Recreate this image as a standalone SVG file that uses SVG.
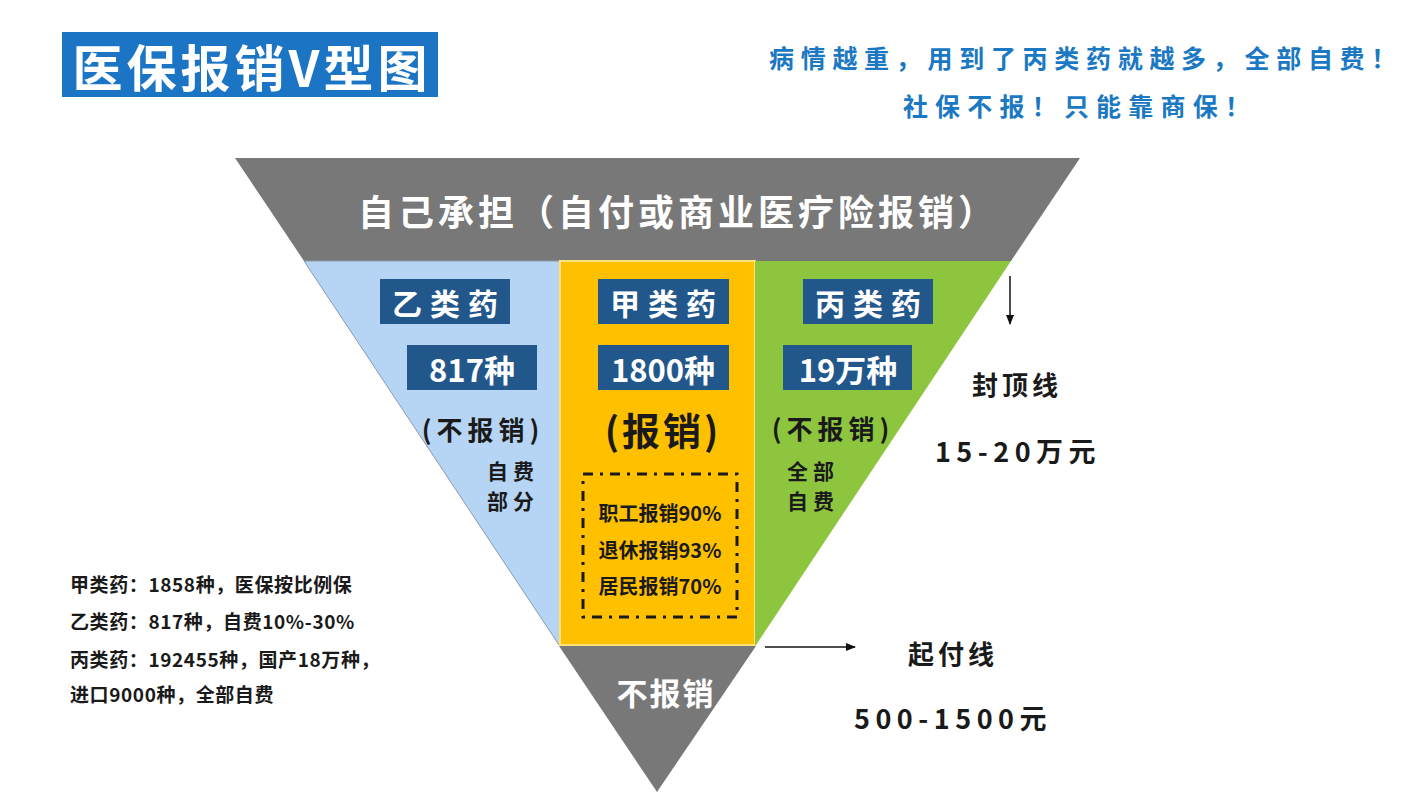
<svg xmlns="http://www.w3.org/2000/svg" width="1421" height="800" viewBox="0 0 1421 800">
<defs>
<style>
text{font-family:"Noto Sans CJK SC","Noto Sans",sans-serif;font-weight:700;dominant-baseline:central;text-anchor:middle}
.w{fill:#ffffff}
.d{fill:#1a1a1a}
.b{fill:#1b78c2}
.box{fill:#22578c}
.bt{font-size:30px;letter-spacing:8px;fill:#fff}
.nt{font-size:31px;fill:#fff}
.pt{font-size:26px;letter-spacing:5px;fill:#1a1a1a}
.st{font-size:21px;letter-spacing:5px;fill:#1a1a1a}
.lt{font-size:19px;letter-spacing:0.6px;text-anchor:start;fill:#1a1a1a}
.ct{font-size:20px;fill:#1a1a1a}
</style>
<marker id="ah" markerWidth="10" markerHeight="8" refX="9" refY="4" orient="auto" markerUnits="userSpaceOnUse">
<path d="M0,0 L10,4 L0,8 Z" fill="#111"/>
</marker>
</defs>
<rect width="1421" height="800" fill="#ffffff"/>

<g id="title">
<rect x="62" y="32" width="376" height="65" fill="#1b75c4"/>
<text x="252" y="65" class="w" style="font-size:50px;letter-spacing:4px">医保报销V型图</text>
</g>

<g id="slogan">
<text x="1086" y="57" class="b" style="font-size:25px;letter-spacing:6.7px">病情越重，用到了丙类药就越多，全部自费！</text>
<text x="1080" y="105" class="b" style="font-size:25px;letter-spacing:7.2px">社保不报！只能靠商保！</text>
</g>

<g id="top-band">
<polygon points="235,158 1080,158 1011,261 304,261" fill="#787878"/>
<text x="678" y="210" class="w" style="font-size:36px;letter-spacing:4px">自己承担（自付或商业医疗险报销）</text>
</g>

<g id="class-b">
<polygon points="304,261 560,261 560,645 559,645" fill="#b6d5f4" stroke="#8a9aaa" stroke-width="1"/>
<rect x="380" y="279" width="130" height="45" class="box"/>
<text x="449" y="302" class="bt">乙类药</text>
<rect x="407" y="345" width="130" height="45" class="box"/>
<text x="472" y="368" class="nt">817种</text>
<text x="483" y="428" class="pt">(不报销)</text>
<text x="513" y="470" class="st">自费</text>
<text x="513" y="500" class="st">部分</text>
</g>

<g id="class-a">
<rect x="560" y="261" width="195" height="384" fill="#ffc000" stroke="#ffe27a" stroke-width="2"/>
<rect x="598" y="279" width="131" height="45" class="box"/>
<text x="667" y="302" class="bt">甲类药</text>
<rect x="598" y="345" width="131" height="45" class="box"/>
<text x="663" y="368" class="nt">1800种</text>
<text x="663" y="428" class="pt" style="font-size:38px;letter-spacing:3px">(报销)</text>
<rect x="583" y="474" width="154" height="143" fill="none" stroke="#1a1a1a" stroke-width="3" stroke-dasharray="10 7 3 7"/>
<text x="660" y="512" class="ct">职工报销90%</text>
<text x="660" y="549" class="ct">退休报销93%</text>
<text x="660" y="585" class="ct">居民报销70%</text>
</g>

<g id="class-c">
<polygon points="755,261 1011,261 756,645 755,645" fill="#8dc53e"/>
<rect x="803" y="279" width="130" height="45" class="box"/>
<text x="872" y="302" class="bt">丙类药</text>
<rect x="783" y="345" width="129" height="45" class="box"/>
<text x="848" y="368" class="nt">19万种</text>
<text x="833" y="427" class="pt">(不报销)</text>
<text x="813" y="470" class="st">全部</text>
<text x="813" y="500" class="st">自费</text>
</g>

<g id="bottom">
<polygon points="559,646 756,646 657,792" fill="#787878"/>
<text x="666" y="691" class="w" style="font-size:31px;letter-spacing:2px">不报销</text>
</g>

<g id="cap">
<text x="1017" y="383" class="d" style="font-size:26px;letter-spacing:4px">封顶线</text>
<text x="1018" y="450" class="d" style="font-size:27px;letter-spacing:5.5px">15-20万元</text>
</g>

<g id="deductible">
<text x="953" y="652" class="d" style="font-size:26px;letter-spacing:4px">起付线</text>
<text x="953" y="717" class="d" style="font-size:27px;letter-spacing:5.5px">500-1500元</text>
</g>

<g id="notes">
<text x="70" y="583" class="lt">甲类药：1858种，医保按比例保</text>
<text x="70" y="620" class="lt">乙类药：817种，自费10%-30%</text>
<text x="70" y="658" class="lt">丙类药：192455种，国产18万种，</text>
<text x="70" y="693" class="lt">进口9000种，全部自费</text>
</g>

<g id="connectors">
<line x1="1010" y1="276" x2="1010" y2="324" stroke="#111" stroke-width="1.5" marker-end="url(#ah)"/>
<line x1="765" y1="647" x2="855" y2="647" stroke="#111" stroke-width="1.5" marker-end="url(#ah)"/>
</g>
</svg>
